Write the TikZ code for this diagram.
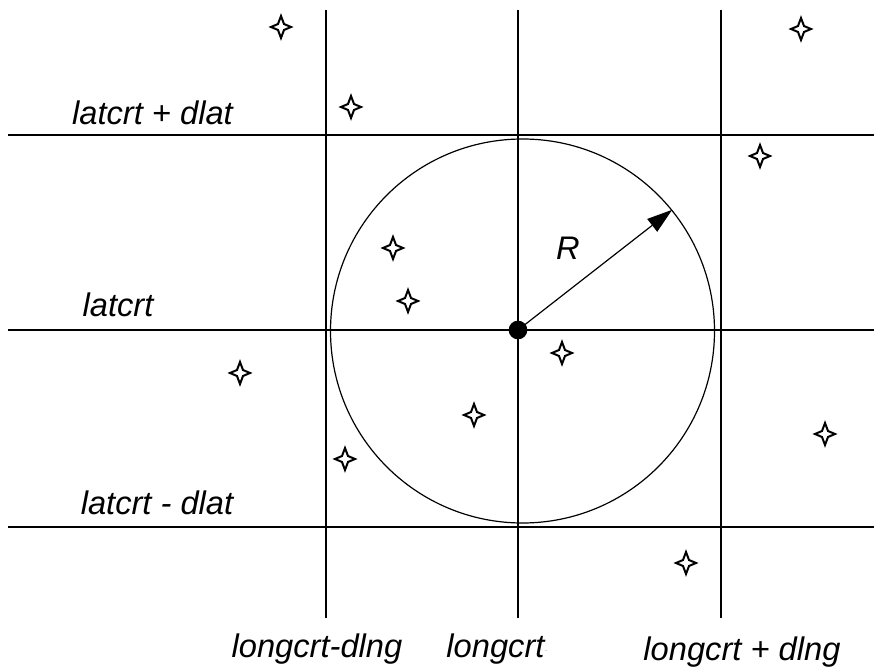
\documentclass[tikz,border=0pt]{standalone}
\usepackage{fontspec}
\setmainfont{Liberation Sans}
\usetikzlibrary{arrows.meta}
\tikzset{
  gridline/.style={line width=1.1pt, black},
  lbl/.style={font=\fontsize{24.5}{28}\selectfont\itshape, inner sep=0pt, anchor=base},
  sparkle/.pic={\draw[line width=1.5pt, line join=miter, fill=white] (0,-11) -- (3,-3) -- (10,0) -- (3,3) -- (0,11) -- (-3,3) -- (-10,0) -- (-3,-3) -- cycle;}
}
\begin{document}
\begin{tikzpicture}[x=0.75pt, y=-0.75pt]
\useasboundingbox (0,0) rectangle (874,670);
% horizontal lines
\coordinate (h1l) at (8,135);  \coordinate (h1r) at (874,135);
\coordinate (h2l) at (8,330);  \coordinate (h2r) at (874,330);
\coordinate (h3l) at (8,527);  \coordinate (h3r) at (874,527);
\coordinate (v1t) at (326,10); \coordinate (v1b) at (326,618);
\coordinate (v2t) at (518,10); \coordinate (v2b) at (518,618);
\coordinate (v3t) at (721,10); \coordinate (v3b) at (721,618);
\draw[gridline] (h1l) -- (h1r);
\draw[gridline] (h2l) -- (h2r);
\draw[gridline] (h3l) -- (h3r);
\draw[gridline] (v1t) -- (v1b);
\draw[gridline] (v2t) -- (v2b);
\draw[gridline] (v3t) -- (v3b);
% circle
\node[circle, draw, line width=0.9pt, minimum size=384*0.75pt, inner sep=0pt] (circ) at (522.5,331) {};
\node[circle, fill=black, minimum size=14pt, inner sep=0pt] (o) at (518,330) {};
\draw[line width=0.9pt, -{Triangle[length=19pt, width=12pt]}] (o.center) -- (circ.39);
\node[lbl] (R) at (568,260) {R};
% labels
\node[lbl] (l1) at (152.5,125) {latcrt + dlat};
\node[lbl] (l2) at (118,316) {latcrt};
\node[lbl] (l3) at (157,514) {latcrt - dlat};
\node[lbl] (b1) at (317,657) {longcrt-dlng};
\node[lbl] (b2) at (497,657) {longcrt\raisebox{0.25ex}{\tiny$\cdot$}};
\node[lbl] (b3) at (742,660) {longcrt + dlng};
% sparkles
\foreach \p in {(281,27),(351,107),(801,29),(760,156),(393,248),(408,301),(562,353),(240,373),(474,415),(825,434),(345,459),(686,563)}
  \pic at \p {sparkle};
\end{tikzpicture}
\end{document}
